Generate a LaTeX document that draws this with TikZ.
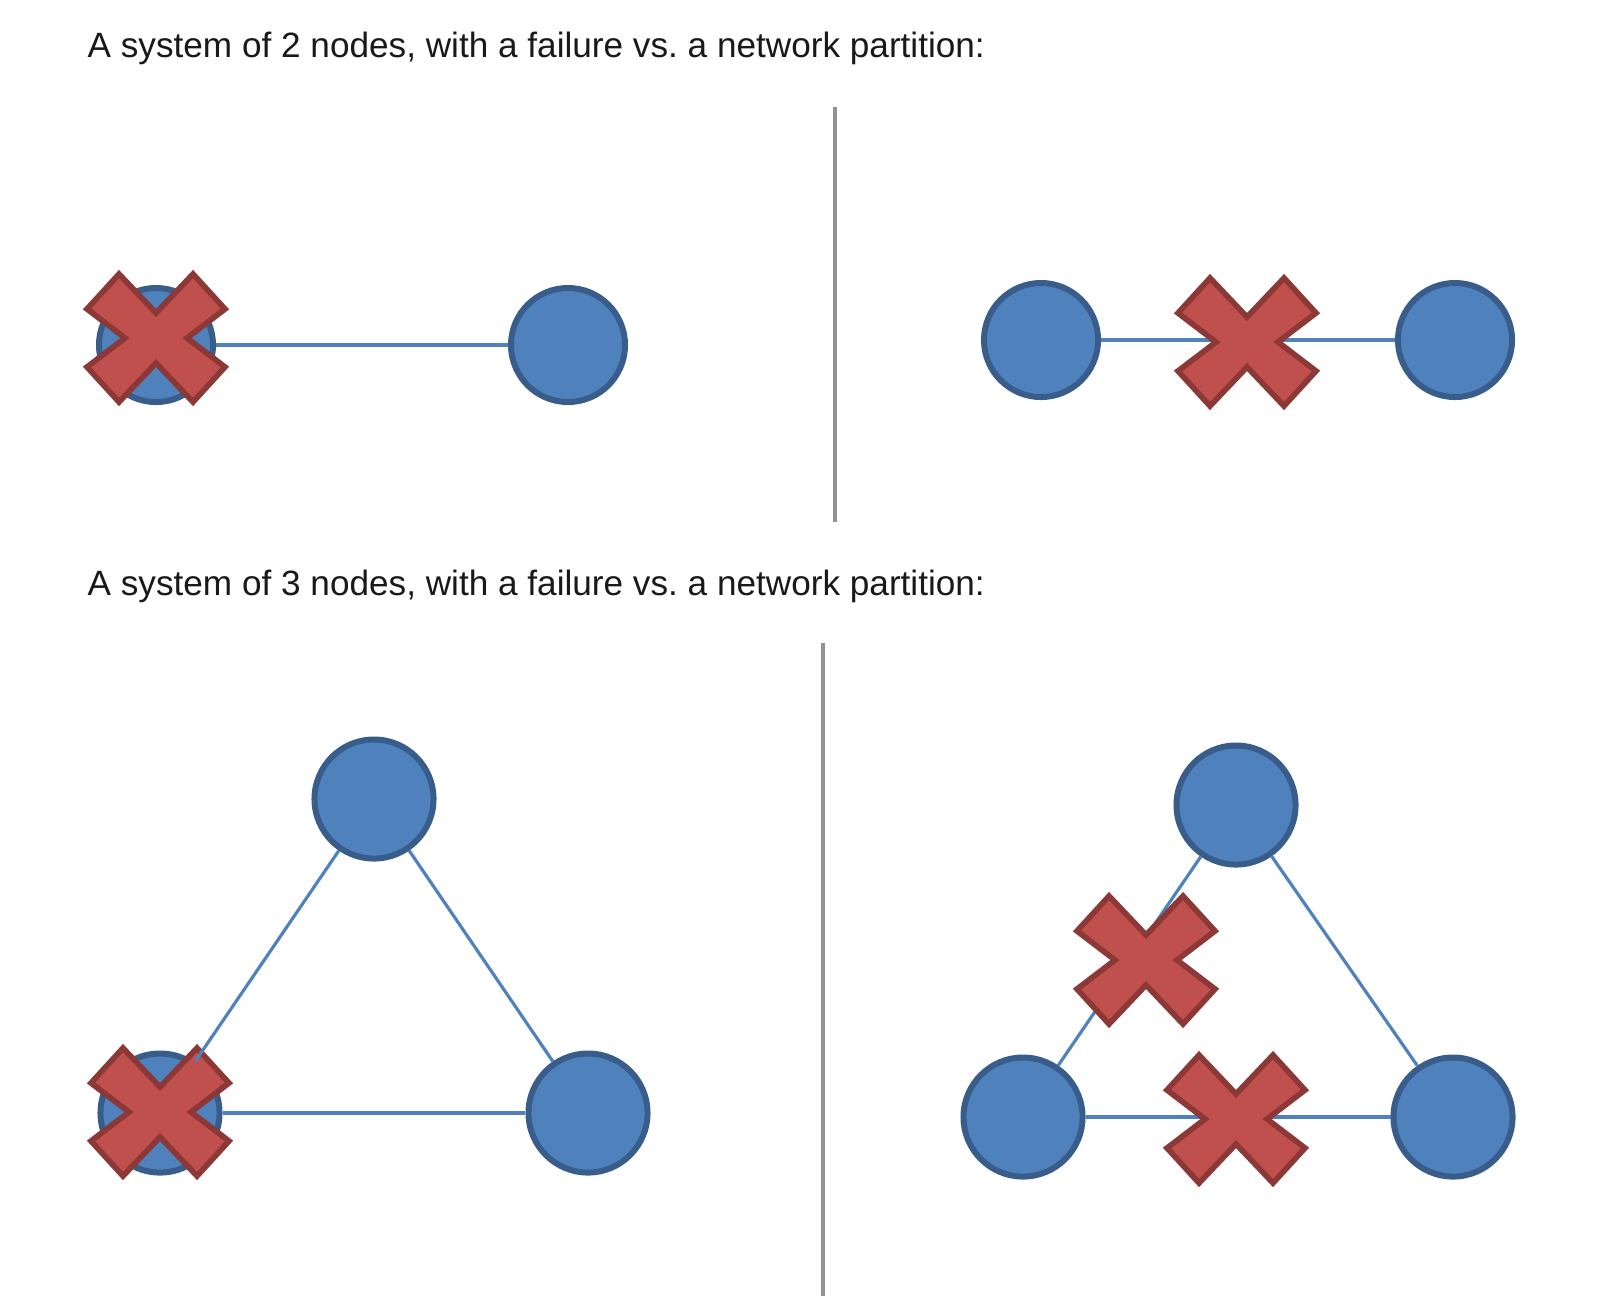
\documentclass[tikz,border=0pt]{standalone}
\usepackage{fontspec}
\setmainfont{Liberation Sans}
\usepackage{tikz}
\definecolor{nodeblue}{HTML}{4F81BD}
\definecolor{nodeedge}{HTML}{385D8A}
\definecolor{crossred}{HTML}{C0504D}
\definecolor{crossedge}{HTML}{8C3836}
\tikzset{
  pc/.style={circle,fill=nodeblue,draw=nodeedge,line width=1.7pt,inner sep=0pt,minimum size=1.14cm},
  pcbig/.style={pc,minimum size=1.19cm},
  link/.style={nodeblue,line width=0.9pt},
  divider/.style={gray!85,line width=1.4pt},
  caption/.style={anchor=base west,inner sep=0pt,font=\fontsize{10pt}{12pt}\selectfont,text=black!90},
  pics/failx/.style={code={
    \draw[fill=crossred,draw=crossedge,line width=1.6pt,line join=miter]
      (-69,29) -- (-37,64) -- (0,25) -- (37,64) -- (69,29) -- (31,0) --
      (69,-29) -- (37,-64) -- (0,-25) -- (-37,-64) -- (-69,-29) -- (-31,0) -- cycle;}}
}
\begin{document}
\begin{tikzpicture}[x=0.01cm,y=-0.01cm]
\useasboundingbox[fill=white] (0,0) rectangle (1610,1296);
% 2 nodes
\node[caption] (t1) at (87,57) {A system of 2 nodes, with a failure vs.\ a network partition:};
\draw[divider] (835,107) -- (835,522);
\node[pc] (a1) at (156,345) {};
\node[pc] (a2) at (568,345) {};
\pic at (156,338) {failx};
\draw[link] (a1) -- (a2);
\node[pc] (b1) at (1041,340) {};
\node[pc] (b2) at (1455,340) {};
\draw[link] (b1) -- (b2);
\pic at (1247,342) {failx};
% 3 nodes
\node[caption] (t2) at (87,595) {A system of 3 nodes, with a failure vs.\ a network partition:};
\draw[divider] (823,643) -- (823,1296);
\node[pcbig] (c1) at (374,799) {};
\node[pcbig] (c2) at (160,1113) {};
\node[pcbig] (c3) at (588,1113) {};
\pic at (160,1112) {failx};
\draw[link] (c1) -- (c2);
\draw[link] (c1) -- (c3);
\draw[link] (c2) -- (c3);
\node[pcbig] (d1) at (1236,805) {};
\node[pcbig] (d2) at (1023,1117) {};
\node[pcbig] (d3) at (1453,1117) {};
\draw[link] (d1) -- (d2);
\draw[link] (d1) -- (d3);
\draw[link] (d2) -- (d3);
\pic at (1146,960) {failx};
\pic at (1236,1119) {failx};
\end{tikzpicture}
\end{document}
